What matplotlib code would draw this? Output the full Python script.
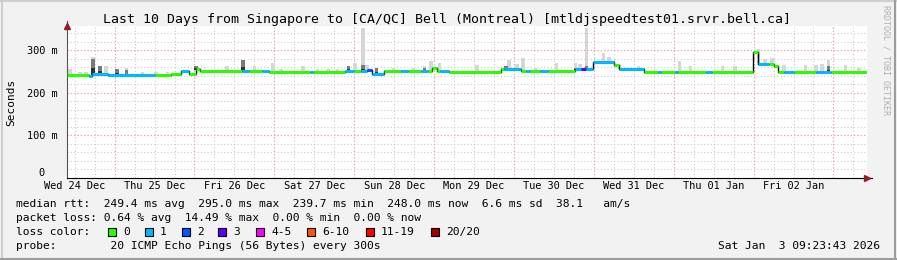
import numpy as np
import matplotlib
matplotlib.use('Agg')
import matplotlib.pyplot as plt
from matplotlib.patches import Rectangle
from matplotlib.lines import Line2D

W, H = 897, 260
MONO = 'DejaVu Sans Mono'

# time in days since Wed 24 Dec 00:00, values in ms
t_start, t_end = 0.404, 10.42

# median rtt as steps: start time, value, loss class (index into loss_colors)
med_t = [0.404, 0.68, 0.72, 0.92, 1.50, 1.70, 1.83, 1.93, 2.02, 2.07,
         2.60, 2.68, 2.85, 2.93, 3.45, 3.49, 3.88, 4.00, 4.09, 4.16,
         4.22, 4.37, 4.59, 4.67, 4.84, 4.92, 4.98, 5.04, 5.07, 5.19,
         5.84, 5.88, 6.09, 6.15, 6.20, 6.32, 6.42, 6.76, 6.84, 6.90,
         6.99, 7.25, 7.32, 7.63, 7.80, 7.84, 8.02, 8.05, 8.40, 8.48,
         8.99, 9.05, 9.19, 9.25, 9.30, 9.38, 9.50, 9.78, 9.97]
med_v = [241, 239, 245, 241, 241, 245, 251, 245, 256, 251,
         251, 251, 252, 248, 248, 248, 252, 252, 251, 253,
         245, 251, 252, 251, 252, 251, 259, 251, 251, 249,
         255, 257, 251, 251, 251, 251, 251, 255, 257, 255,
         272, 265, 255, 249, 249, 249, 249, 249, 249, 249,
         296, 268, 268, 262, 249, 249, 249, 250, 249]
med_loss = [0, 1, 1, 1, 0, 0, 1, 0, 0, 0,
            1, 0, 1, 0, 1, 0, 1, 0, 1, 2,
            1, 0, 1, 0, 1, 0, 0, 0, 1, 0,
            0, 1, 0, 1, 0, 1, 0, 1, 3, 1,
            1, 0, 1, 0, 1, 0, 1, 0, 1, 0,
            0, 1, 0, 0, 0, 1, 0, 1, 0]

# smoke (spread of the 20 pings): time, top of light smoke, top of dark core (0 = none)
smoke_t = [0.44, 0.57, 0.64, 0.73, 0.82, 0.89, 1.03, 1.15, 1.35, 1.52,
           1.66, 2.02, 2.41, 2.61, 2.75, 2.98, 3.08, 3.36, 3.54, 3.67,
           3.79, 3.93, 4.01, 4.11, 4.16, 4.28, 4.49, 4.74, 4.88, 4.96,
           5.07, 5.54, 5.90, 5.94, 6.04, 6.11, 6.27, 6.53, 6.77, 6.83,
           6.91, 7.12, 7.19, 7.32, 7.56, 8.07, 8.21, 8.61, 8.77, 9.06,
           9.14, 9.23, 9.38, 9.65, 9.78, 9.86, 9.94, 10.15, 10.32]
smoke_top = [255, 248, 248, 285, 262, 262, 257, 258, 250, 248,
             250, 262, 263, 276, 262, 270, 255, 262, 255, 255,
             255, 263, 270, 353, 265, 258, 258, 258, 262, 274,
             270, 266, 262, 276, 268, 282, 258, 270, 270, 268,
             353, 294, 285, 266, 262, 274, 262, 262, 262, 302,
             280, 282, 266, 266, 266, 268, 276, 266, 258]
smoke_dark = [0, 0, 0, 280, 262, 0, 257, 253, 0, 0,
              0, 262, 0, 276, 0, 0, 0, 0, 0, 0,
              0, 263, 0, 265, 0, 258, 0, 0, 258, 0,
              0, 0, 262, 0, 0, 0, 0, 0, 258, 0,
              262, 0, 0, 0, 0, 0, 0, 0, 0, 0,
              0, 0, 0, 0, 0, 0, 262, 0, 0]

day_labels = ['Wed 24 Dec', 'Thu 25 Dec', 'Fri 26 Dec', 'Sat 27 Dec', 'Sun 28 Dec',
              'Mon 29 Dec', 'Tue 30 Dec', 'Wed 31 Dec', 'Thu 01 Jan', 'Fri 02 Jan']
y_ticks = [0, 100, 200, 300]
y_labels = ['0  ', '100 m', '200 m', '300 m']

loss_names = ['0', '1', '2', '3', '4-5', '6-10', '11-19', '20/20']
loss_colors = ['#26ff00', '#00b8ff', '#0059ff', '#5e00ff', '#ff00ff', '#ff5500', '#ff0000', '#a10000']
loss_box_x = [108, 145, 182, 218, 256, 307, 366, 431]

title = 'Last 10 Days from Singapore to [CA/QC] Bell (Montreal) [mtldjspeedtest01.srvr.bell.ca]'
legend_lines = [
    'median rtt:  249.4 ms avg  295.0 ms max  239.7 ms min  248.0 ms now  6.6 ms sd  38.1   am/s',
    'packet loss: 0.64 % avg  14.49 % max  0.00 % min  0.00 % now',
    'loss color:',
    'probe:        20 ICMP Echo Pings (56 Bytes) every 300s',
]
stamp = 'Sat Jan  3 09:23:43 2026'


def fx(px):
    return px / W


def fy(py):
    return 1 - py / H


fig = plt.figure(figsize=(W / 100, H / 100), dpi=100)
fig.patch.set_facecolor('#f2f2f2')
ax = fig.add_axes([fx(67), fy(178), fx(867 - 67), (178 - 26) / H])
ax.set_facecolor('white')
ax.set_xlim(t_start, t_end)
ax.set_ylim(0, 357)

# grid
for d in np.arange(0.5, 10.5, 0.25):
    ax.axvline(d, color='#cccccc', lw=0.8, ls=(0, (1, 2)), zorder=0)
for v in range(20, 357, 20):
    ax.axhline(v, color='#cccccc', lw=0.8, ls=(0, (1, 2)), zorder=0)
for d in range(1, 11):
    ax.axvline(d, color='#f4a0a0', lw=0.8, ls=(0, (1, 2)), zorder=0)
for v in (100, 200, 300):
    ax.axhline(v, color='#f4a0a0', lw=0.8, ls=(0, (1, 2)), zorder=0)

# smoke
med_t_arr = np.array(med_t)
med_v_arr = np.array(med_v)
for t, top, dark in zip(smoke_t, smoke_top, smoke_dark):
    base = med_v_arr[np.searchsorted(med_t_arr, t, side='right') - 1] - 2
    ax.bar(t, top - base, bottom=base, width=0.045, color='#d6d6d6', zorder=1)
    if dark:
        ax.bar(t, dark - base, bottom=base, width=0.045, color='#7a7a7a', zorder=2)
        ax.bar(t, (dark - base) * 0.4, bottom=base, width=0.045, color='#333333', zorder=2)

# median line
ends = med_t[1:] + [t_end]
ax.step(med_t + [t_end], med_v + [med_v[-1]], where='post', color='black', lw=1.0, zorder=3)
ax.hlines(med_v, med_t, ends, colors=[loss_colors[c] for c in med_loss], lw=2.2, zorder=4)

# axes
for s in ('top', 'right'):
    ax.spines[s].set_visible(False)
ax.spines['left'].set_color('#555555')
ax.spines['bottom'].set_color('black')
ax.set_xticks([d + 0.5 for d in range(10)])
ax.set_xticklabels(day_labels, family=MONO, fontsize=7.4)
ax.set_yticks(y_ticks)
ax.set_yticklabels(y_labels, family=MONO, fontsize=7.4)
ax.get_yticklabels()[0].set_verticalalignment('bottom')
ax.tick_params(length=0, pad=2.5, axis='x')
ax.tick_params(length=0, pad=7, axis='y')
ax.plot([0], [1.0], marker='^', color='#9b1c1c', ms=4.5, transform=ax.transAxes, clip_on=False, zorder=5)
ax.plot([1.0], [0], marker='>', color='#9b1c1c', ms=4.5, transform=ax.transAxes, clip_on=False, zorder=5)
ax.plot([0, 0], [1.0, 1.03], color='#555555', lw=0.8, transform=ax.transAxes, clip_on=False)
ax.plot([1.0, 1.006], [0, 0], color='black', lw=0.8, transform=ax.transAxes, clip_on=False)

# texts
fig.text(fx(447), fy(19), title, family=MONO, fontsize=9.5, ha='center', va='center')
fig.text(fx(11), fy(102), 'Seconds', family=MONO, fontsize=8, rotation=90, ha='center', va='center')
fig.text(fx(886), fy(60), 'RRDTOOL / TOBI OETIKER', family=MONO, fontsize=6, rotation=270,
         ha='center', va='center', color='#b0b0b0')
for i, line in enumerate(legend_lines):
    fig.text(fx(16), fy(204 + 14 * i), line, family=MONO, fontsize=8.1, ha='left', va='center')
fig.text(fx(880), fy(246), stamp, family=MONO, fontsize=8.1, ha='right', va='center')

for bx, name, col in zip(loss_box_x, loss_names, loss_colors):
    fig.add_artist(Rectangle((fx(bx), fy(236)), 8 / W, 8 / H, transform=fig.transFigure,
                             facecolor=col, edgecolor='black', lw=0.8))
    fig.text(fx(bx + 15), fy(232), name, family=MONO, fontsize=8.1, ha='left', va='center')

# bevelled border
fig.add_artist(Line2D([0, 1], [0.996, 0.996], transform=fig.transFigure, color='#cfcfcf', lw=1.5))
fig.add_artist(Line2D([0.002, 0.002], [0, 1], transform=fig.transFigure, color='#cfcfcf', lw=1.5))
fig.add_artist(Line2D([0, 1], [0.004, 0.004], transform=fig.transFigure, color='#9c9c9c', lw=1.5))
fig.add_artist(Line2D([0.998, 0.998], [0, 1], transform=fig.transFigure, color='#9c9c9c', lw=1.5))

fig.savefig('out.png', dpi=100, facecolor=fig.get_facecolor())
